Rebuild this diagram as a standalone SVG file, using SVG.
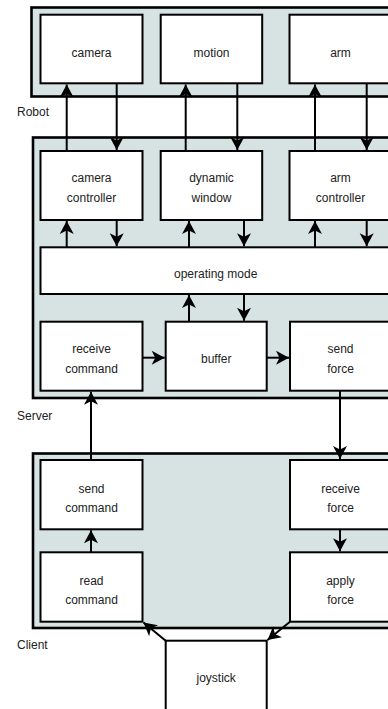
<svg xmlns="http://www.w3.org/2000/svg" width="388" height="709" viewBox="0 0 388 709">
<defs>
<marker id="ah" markerUnits="userSpaceOnUse" markerWidth="16" markerHeight="16" viewBox="-14 -8 16 16" refX="0" refY="0" orient="auto">
<path d="M0,0 L-13,-7 L-9.5,0 L-13,7 Z" fill="#000"/>
</marker>
<style>
.cont{fill:#d6e3e2;stroke:#000;stroke-width:2.6}
.box{fill:#fff;stroke:#000;stroke-width:2}
.t{font-family:"Liberation Sans",Arial,sans-serif;font-size:12px;fill:#222;text-anchor:middle}
.lbl{font-family:"Liberation Sans",Arial,sans-serif;font-size:12px;fill:#222}
.c{fill:none;stroke:#000;stroke-width:2;marker-end:url(#ah)}
</style>
</defs>
<rect width="388" height="709" fill="#fff"/>

<g id="robot">
<rect class="cont" x="31.5" y="7.5" width="380" height="89"/>
<text class="lbl" x="17" y="116">Robot</text>
</g>
<g id="server">
<rect class="cont" x="33" y="137.5" width="380" height="260.5"/>
<text class="lbl" x="17" y="419.5">Server</text>
</g>
<g id="client">
<rect class="cont" x="33" y="453.5" width="380" height="174.5"/>
<text class="lbl" x="17" y="648.5">Client</text>
</g>

<g id="camera"><rect class="box" x="40.5" y="14.7" width="102" height="68.6"/><text class="t" x="91.5" y="56.5">camera</text></g>
<g id="motion"><rect class="box" x="160.7" y="14.7" width="101.5" height="68.6"/><text class="t" x="211.5" y="56.5">motion</text></g>
<g id="arm"><rect class="box" x="289.5" y="14.7" width="102" height="68.6"/><text class="t" x="340.5" y="56.5">arm</text></g>

<g id="camera-controller"><rect class="box" x="40.5" y="151" width="102" height="69"/><text class="t" x="91.5" y="182">camera</text><text class="t" x="91.5" y="201.5">controller</text></g>
<g id="dynamic-window"><rect class="box" x="160.7" y="151" width="101.5" height="69"/><text class="t" x="211.5" y="182">dynamic</text><text class="t" x="211.5" y="201.5">window</text></g>
<g id="arm-controller"><rect class="box" x="289.5" y="151" width="102" height="69"/><text class="t" x="340.5" y="182">arm</text><text class="t" x="340.5" y="201.5">controller</text></g>

<g id="operating-mode"><rect class="box" x="40.5" y="247.3" width="360" height="46.7"/><text class="t" x="215.7" y="277.7">operating mode</text></g>

<g id="receive-command"><rect class="box" x="40.5" y="321.7" width="102" height="69"/><text class="t" x="91.5" y="353">receive</text><text class="t" x="91.5" y="372.7">command</text></g>
<g id="buffer"><rect class="box" x="165.7" y="321.7" width="101" height="69"/><text class="t" x="216.2" y="363.3">buffer</text></g>
<g id="send-force"><rect class="box" x="290" y="321.7" width="102" height="69"/><text class="t" x="340.5" y="353">send</text><text class="t" x="340.5" y="372.7">force</text></g>

<g id="send-command"><rect class="box" x="40.5" y="460" width="102" height="69.3"/><text class="t" x="91.5" y="492.5">send</text><text class="t" x="91.5" y="511.5">command</text></g>
<g id="receive-force"><rect class="box" x="290" y="460" width="102" height="69.3"/><text class="t" x="340.5" y="492.5">receive</text><text class="t" x="340.5" y="511.5">force</text></g>

<g id="read-command"><rect class="box" x="40.5" y="552.3" width="102" height="69.4"/><text class="t" x="91.5" y="584.5">read</text><text class="t" x="91.5" y="603.5">command</text></g>
<g id="apply-force"><rect class="box" x="290" y="552.3" width="102" height="69.4"/><text class="t" x="340.5" y="584.5">apply</text><text class="t" x="340.5" y="603.5">force</text></g>

<g id="joystick"><rect class="box" x="165.7" y="640.7" width="101" height="70"/><text class="t" x="216.2" y="682">joystick</text></g>

<g id="connectors">
<line class="c" x1="66.7" y1="151" x2="66.7" y2="84.5"/>
<line class="c" x1="116.7" y1="83.3" x2="116.7" y2="150"/>
<line class="c" x1="185.7" y1="151" x2="185.7" y2="84.5"/>
<line class="c" x1="237.3" y1="83.3" x2="237.3" y2="150"/>
<line class="c" x1="315" y1="151" x2="315" y2="84.5"/>
<line class="c" x1="366.7" y1="83.3" x2="366.7" y2="150"/>

<line class="c" x1="66.7" y1="247.3" x2="66.7" y2="221"/>
<line class="c" x1="116.7" y1="220" x2="116.7" y2="246.3"/>
<line class="c" x1="189" y1="247.3" x2="189" y2="221"/>
<line class="c" x1="244" y1="220" x2="244" y2="246.3"/>
<line class="c" x1="315" y1="247.3" x2="315" y2="221"/>
<line class="c" x1="366.7" y1="220" x2="366.7" y2="246.3"/>

<line class="c" x1="189" y1="321.7" x2="189" y2="295"/>
<line class="c" x1="244" y1="294" x2="244" y2="320.7"/>

<line class="c" x1="142.7" y1="357.7" x2="164.7" y2="357.7"/>
<line class="c" x1="266.7" y1="357.7" x2="289" y2="357.7"/>

<line class="c" x1="91" y1="460" x2="91" y2="391.7"/>
<line class="c" x1="340" y1="390.7" x2="340" y2="459"/>

<line class="c" x1="91" y1="552.3" x2="91" y2="530.3"/>
<line class="c" x1="340" y1="529.3" x2="340" y2="551.3"/>

<line class="c" x1="165.7" y1="640.7" x2="143.5" y2="622.5"/>
<line class="c" x1="290" y1="621.7" x2="267.5" y2="640"/>
</g>
</svg>
